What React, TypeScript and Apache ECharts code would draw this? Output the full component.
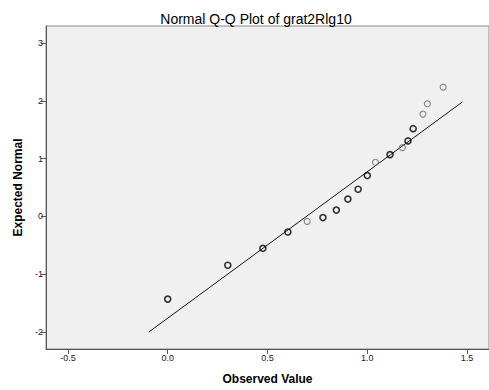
import React, { useEffect, useRef } from "react";
import * as echarts from "echarts";

const titleText = "Normal Q-Q Plot of grat2Rlg10";
const xAxisName = "Observed Value";
const yAxisName = "Expected Normal";

// observed values (log10 of raw values)
const observed = [0, 0.301, 0.477, 0.602, 0.699, 0.778, 0.845, 0.903, 0.954, 1.0, 1.041, 1.114, 1.176, 1.204, 1.23, 1.279, 1.301, 1.38];
// expected normal scores
const expected = [-1.43, -0.845, -0.552, -0.27, -0.086, -0.02, 0.11, 0.3, 0.47, 0.707, 0.936, 1.069, 1.19, 1.305, 1.517, 1.77, 1.948, 2.236];
// tie counts (overlapping points drawn darker)
const counts = [2, 2, 2, 2, 1, 2, 2, 2, 2, 2, 1, 2, 1, 2, 2, 1, 1, 1];

// reference line endpoints
const lineX = [-0.095, 1.477];
const lineY = [-2.0, 1.98];

const xTicks = [-0.5, 0, 0.5, 1, 1.5];
const yTicks = [-2, -1, 0, 1, 2, 3];

export default function App() {
  const ref = useRef<HTMLDivElement>(null);
  useEffect(() => {
    document.body.style.margin = "0";
    const chart = echarts.init(ref.current!, null, { renderer: "svg" });
    const font = "'Liberation Sans', Arial, sans-serif";
    const pts = observed.map((x, i) => ({
      value: [x, expected[i]],
      itemStyle: {
        borderColor: counts[i] > 1 ? "#000" : "#6a6a6a",
        borderWidth: counts[i] > 1 ? 1.6 : 1.1,
        color: "rgba(0,0,0,0)",
      },
    }));
    chart.setOption({
      animation: false,
      backgroundColor: "#fff",
      title: {
        text: titleText,
        left: 251,
        textAlign: "center",
        top: 7,
        textStyle: { fontFamily: font, fontSize: 14, fontWeight: "normal", color: "#000" },
      },
      grid: {
        left: 46,
        top: 26,
        right: -5,
        bottom: 40,
        show: true,
        backgroundColor: "#f0f0f0",
        borderColor: "#8a8a8a",
        borderWidth: 1,
      },
      xAxis: {
        type: "value",
        min: -0.61,
        max: 1.61,
        name: xAxisName,
        nameLocation: "middle",
        nameGap: 24,
        nameTextStyle: { fontFamily: font, fontSize: 12, fontWeight: "bold", color: "#000", verticalAlign: "top" },
        axisLine: { show: true, onZero: false, lineStyle: { color: "#555", width: 1 } },
        axisTick: { show: true, length: 5, lineStyle: { color: "#555" }, customValues: xTicks },
        axisLabel: {
          customValues: xTicks,
          formatter: (v: number) => v.toFixed(1),
          fontFamily: font,
          fontSize: 9,
          color: "#222",
          margin: 4,
        },
        splitLine: { show: false },
      },
      yAxis: {
        type: "value",
        min: -2.293,
        max: 3.293,
        name: yAxisName,
        nameLocation: "middle",
        nameGap: 19,
        nameTextStyle: { fontFamily: font, fontSize: 12, fontWeight: "bold", color: "#000" },
        axisLine: { show: true, onZero: false, lineStyle: { color: "#555", width: 1 } },
        axisTick: { show: true, length: 5, lineStyle: { color: "#555" }, customValues: yTicks },
        axisLabel: {
          customValues: yTicks,
          formatter: (v: number) => String(v),
          fontFamily: font,
          fontSize: 9,
          color: "#222",
          margin: 3,
        },
        splitLine: { show: false },
      },
      series: [
        {
          type: "line",
          data: lineX.map((x, i) => [x, lineY[i]]),
          symbol: "none",
          lineStyle: { color: "#111", width: 1 },
          silent: true,
          z: 1,
        },
        {
          type: "scatter",
          symbol: "circle",
          symbolSize: 6,
          data: pts,
          z: 2,
        },
      ],
    });
    return () => chart.dispose();
  }, []);
  return <div ref={ref} style={{ width: 489, height: 390 }} />;
}
